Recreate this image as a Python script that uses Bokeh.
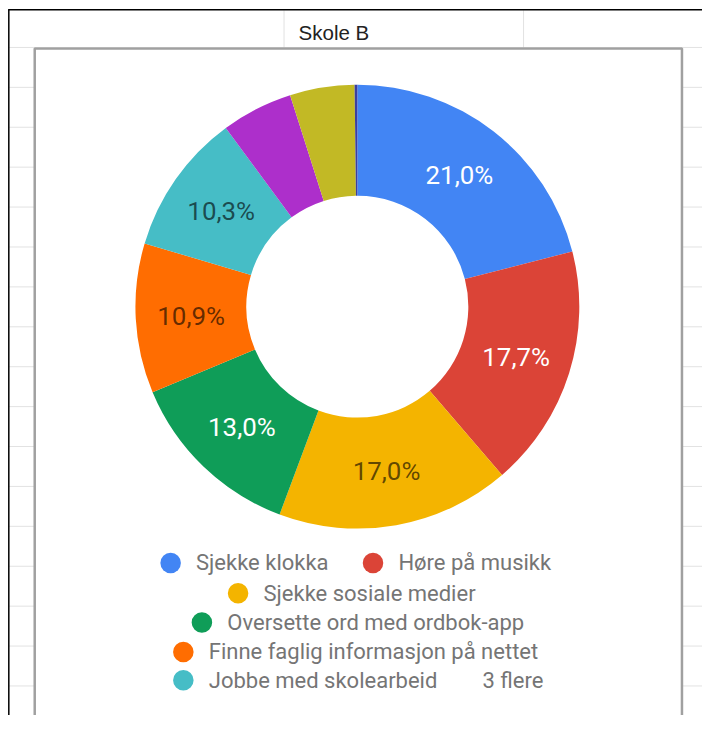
import math
from bokeh.plotting import figure
from bokeh.models import Range1d, ColumnDataSource
from bokeh.core.properties import value
from bokeh.embed import file_html
from bokeh.resources import INLINE

# ---------------- data ----------------
title = "Skole B"
categories = [
    "Sjekke klokka",
    "Høre på musikk",
    "Sjekke sosiale medier",
    "Oversette ord med ordbok-app",
    "Finne faglig informasjon på nettet",
    "Jobbe med skolearbeid",
    "Annet 1",
    "Annet 2",
    "Annet 3",
]
percent = [21.0, 17.7, 17.0, 13.0, 10.9, 10.3, 5.2, 4.7, 0.2]
colors = ["#4285F4", "#DB4437", "#F4B400", "#0F9D58", "#FF6D01",
          "#46BDC6", "#AD2FCB", "#C2B925", "#3B3FA0"]
label_colors = ["#FFFFFF", "#FFFFFF", "#000000", "#FFFFFF", "#000000",
                "#000000", "#FFFFFF", "#FFFFFF", "#FFFFFF"]
label_alpha = [1.0, 1.0, 0.62, 1.0, 0.62, 0.62, 1.0, 1.0, 1.0]
more_text = "3 flere"
shown_legend = 6

# ---------------- layout ----------------
W, H = 702, 715            # figure size in pixels
RW, RH = 718, 731          # reference coordinate frame
S = W / RW
CX, CY = 365, 313
R_OUT, R_IN = 227, 113.5

def Y(sy):
    return -sy

def px(v):
    return f"{v * S:.1f}px"

p = figure(width=W, height=H, output_backend="svg", toolbar_location=None,
           x_range=Range1d(0, RW), y_range=Range1d(-RH, 0),
           min_border=0)
p.axis.visible = False
p.grid.visible = False
p.outline_line_color = None
p.background_fill_color = "white"
p.border_fill_color = "white"

# spreadsheet background
grid_col = "#E2E2E2"
row_lines = [48 + 40.8 * k for k in range(18)]
p.segment(x0=[8] * len(row_lines), y0=[Y(v) for v in row_lines],
          x1=[35] * len(row_lines), y1=[Y(v) for v in row_lines],
          line_color=grid_col, line_width=1)
p.segment(x0=[697] * len(row_lines), y0=[Y(v) for v in row_lines],
          x1=[718] * len(row_lines), y1=[Y(v) for v in row_lines],
          line_color=grid_col, line_width=1)
p.segment(x0=[290, 535], y0=[Y(10), Y(10)], x1=[290, 535], y1=[Y(48), Y(48)],
          line_color=grid_col, line_width=1)
# black sheet border (top / left)
p.segment(x0=[8, 8.5], y0=[Y(9.5), Y(9)], x1=[718, 8.5], y1=[Y(9.5), Y(731)],
          line_color="#000000", line_width=1.5)
# chart box
p.quad(left=[35], right=[697], top=[Y(49)], bottom=[Y(745)],
       fill_color="white", line_color="#A0A0A0", line_width=2.5)

p.text(x=[341], y=[Y(33)], text=[title], text_align="center",
       text_baseline="middle", text_font=value("Liberation Sans"),
       text_font_size=px(21), text_color="#222222")

# ---------------- donut ----------------
total = sum(percent)
starts, ends, mids = [], [], []
cum = 0.0
for v in percent:
    a0 = math.pi / 2 - 2 * math.pi * cum / total
    cum += v
    a1 = math.pi / 2 - 2 * math.pi * cum / total
    starts.append(a0)
    ends.append(a1)
    mids.append((a0 + a1) / 2)

src = ColumnDataSource(dict(start=starts, end=ends, color=colors))
p.annular_wedge(x=CX, y=Y(CY), inner_radius=R_IN, outer_radius=R_OUT,
                start_angle="start", end_angle="end", direction="clock",
                fill_color="color", line_color=None, source=src)

r_lab = (R_IN + R_OUT) / 2
lx, ly, lt, lc, la = [], [], [], [], []
for v, m, c, a in zip(percent, mids, label_colors, label_alpha):
    if v < 8:
        continue
    lx.append(CX + r_lab * math.cos(m))
    ly.append(Y(CY) + r_lab * math.sin(m))
    lt.append(f"{v:.1f}%".replace(".", ","))
    lc.append(c)
    la.append(a)
p.text(x=lx, y=ly, text=lt, text_color=lc, text_alpha=la,
       text_align="center", text_baseline="middle",
       text_font=value("Roboto"), text_font_size=px(26.5))

# ---------------- legend ----------------
leg_rows = [575, 575, 606, 636, 666, 695]
leg_dot_x = [174, 381, 243, 206, 187, 187]
gx = [x + 26 for x in leg_dot_x]
p.scatter(x=leg_dot_x, y=[Y(v) for v in leg_rows], marker="circle",
          size=21 * S, fill_color=colors[:shown_legend], line_color=None)
p.text(x=gx, y=[Y(v) for v in leg_rows], text=categories[:shown_legend],
       text_align="left", text_baseline="middle", text_font=value("Roboto"),
       text_font_size=px(22.5), text_color="#757575")
p.text(x=[493], y=[Y(695)], text=[more_text], text_align="left",
       text_baseline="middle", text_font=value("Roboto"),
       text_font_size=px(22.5), text_color="#757575")

open("out.html", "w").write(file_html(p, INLINE))
